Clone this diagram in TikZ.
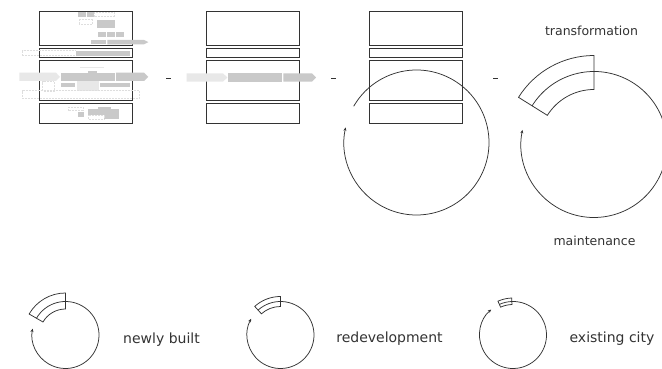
\documentclass[tikz,border=0pt]{standalone}
\usepackage{fontspec}
\setmainfont{DejaVu Sans}
\usetikzlibrary{arrows.meta}

\definecolor{lineg}{rgb}{0.2,0.2,0.2}
\definecolor{barg}{rgb}{0.79,0.79,0.79}
\definecolor{lightg}{rgb}{0.91,0.91,0.91}
\definecolor{ghostg}{rgb}{0.87,0.87,0.87}

\begin{document}
\begin{tikzpicture}[x=1pt,y=1pt,
    boxline/.style={draw=lineg,line width=0.8pt},
    loopline/.style={draw=lineg,line width=0.75pt},
    looparrow/.style={loopline,-{Stealth[length=3.5pt,width=3pt]}},
    graybar/.style={fill=barg},
    lightbar/.style={fill=lightg},
    ghost/.style={draw=ghostg,densely dotted,line width=0.5pt},
    toplabel/.style={anchor=base,text=black!80,font=\fontsize{12.5}{15}\selectfont},
    botlabel/.style={anchor=base,text=black!80,font=\fontsize{14}{16}\selectfont}]
    \clip (0,0) rectangle (662,369);
    \fill[white] (0,0) rectangle (662,369);
    % buildings
    \draw[boxline] (39,323.3) rectangle (132,358);
    \draw[boxline] (39,311.3) rectangle (132,320.7);
    \draw[boxline] (39,269) rectangle (132,308.7);
    \draw[boxline] (39,246) rectangle (132,265.7);
    \draw[boxline] (206,323.3) rectangle (299,358);
    \draw[boxline] (206,311.3) rectangle (299,320.7);
    \draw[boxline] (206,269) rectangle (299,308.7);
    \draw[boxline] (206,246) rectangle (299,265.7);
    \draw[boxline] (369,323.3) rectangle (462,358);
    \draw[boxline] (369,311.3) rectangle (462,320.7);
    \draw[boxline] (369,269) rectangle (462,308.7);
    \draw[boxline] (369,246) rectangle (462,265.7);
    % first building, grey parts
    \fill[graybar] (78.3,352.3) rectangle (85.7,356.7);
    \fill[graybar] (87.3,352.3) rectangle (94.3,356.7);
    \draw[ghost] (94.3,352.3) rectangle (114.3,356.7);
    \draw[ghost] (79,345) rectangle (92.7,349.7);
    \fill[graybar] (96.7,340.7) rectangle (115,349);
    \fill[graybar] (98.3,332.3) rectangle (105.5,336.7);
    \fill[graybar] (107,332.3) rectangle (114.5,336.7);
    \fill[graybar] (116,332.3) rectangle (124,336.7);
    \fill[graybar] (91,324.7) rectangle (106,329);
    \fill[graybar] (107.3,324.7) -- (144,324.7) -- (148.3,326.85) -- (144,329) -- (107.3,329) -- cycle;
    \draw[ghost] (22.7,313.3) rectangle (76,318.3);
    \fill[graybar] (76,313.3) rectangle (130,318.3);
    \fill[lightbar] (80,300.7) rectangle (104,302.3);
    \fill[graybar] (88.3,296.3) rectangle (96.7,298);
    \fill[lightbar] (19.3,288) -- (56,288) -- (60,292.15) -- (56,296.3) -- (19.3,296.3) -- cycle;
    \fill[graybar] (61,288) rectangle (115,296.3);
    \fill[graybar] (116,288) -- (144,288) -- (148.3,292.15) -- (144,296.3) -- (116,296.3) -- cycle;
    \fill[graybar] (61,282.3) rectangle (75,285.7);
    \fill[lightbar] (77.3,278.3) rectangle (98.7,288);
    \fill[graybar] (100,282.3) rectangle (130,285.7);
    \draw[ghost] (42.7,278) rectangle (54.3,287.3);
    \draw[ghost] (22.7,270.7) rectangle (139.3,278.3);
    \draw[ghost] (68.3,258.3) rectangle (83.3,261.7);
    \fill[graybar] (77.7,252.3) rectangle (84.3,256.7);
    \fill[graybar] (97.7,259.7) rectangle (111,262.3);
    \fill[graybar] (88.3,254) rectangle (119.3,259.7);
    \fill[graybar] (104.3,250) rectangle (119.3,254);
    \draw[ghost] (88.3,250) rectangle (104.3,254);
    % second building, grey parts
    \fill[lightbar] (186.7,287.3) -- (223,287.3) -- (227.3,291.5) -- (223,295.7) -- (186.7,295.7) -- cycle;
    \fill[graybar] (228.3,287.3) rectangle (281.7,295.7);
    \fill[graybar] (283.3,287.3) -- (312,287.3) -- (316,291.5) -- (312,295.7) -- (283.3,295.7) -- cycle;
    % steps
    \draw[loopline] (166,291) -- (171,291);
    \draw[loopline] (331,291) -- (336,291);
    \draw[loopline] (493,291) -- (498,291);
    % cycle through third building
    \begin{scope}[shift={(416.5,226.5)}]
        \draw[looparrow] (150:72.5) arc (150:-192:72.5);
    \end{scope}
    % transformation and maintenance
    \begin{scope}[shift={(594,224.5)}]
        \draw[loopline] (148:55) arc (148:90:55) -- (90:89) arc (90:148:89) -- cycle;
        \draw[looparrow] (148:73) arc (148:-191.5:73);
    \end{scope}
    \node[toplabel] (transf) at (591.5,333) {transformation};
    \node[toplabel] (maint) at (594.5,123) {maintenance};
    % legend
    \begin{scope}[shift={(65.5,34)}]
        \draw[loopline] (150:26) arc (150:90:26) -- (90:42) arc (90:150:42) -- cycle;
        \draw[looparrow] (150:33.5) arc (150:-191:33.5);
    \end{scope}
    \begin{scope}[shift={(280.5,34)}]
        \draw[loopline] (132:28.5) arc (132:90:28.5) -- (90:38.5) arc (90:132:38.5) -- cycle;
        \draw[looparrow] (132:33.5) arc (132:-209:33.5);
    \end{scope}
    \begin{scope}[shift={(513,34)}]
        \draw[loopline] (114:30.5) arc (114:92:30.5) -- (92:37) arc (92:114:37) -- cycle;
        \draw[looparrow] (114:33.5) arc (114:-229.5:33.5);
    \end{scope}
    \node[botlabel] (newly) at (161.5,25) {newly built};
    \node[botlabel] (redev) at (389.5,26) {redevelopment};
    \node[botlabel] (exist) at (612,26) {existing city};
\end{tikzpicture}
\end{document}
